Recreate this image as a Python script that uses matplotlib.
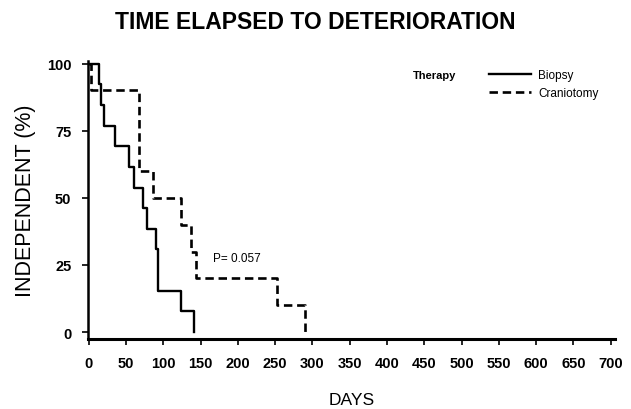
import matplotlib
matplotlib.use("Agg")
import matplotlib.pyplot as plt

# Kaplan-Meier style step data
biopsy_days = [0, 14, 16, 20, 35, 54, 61, 73, 78, 90, 93, 124, 141]
biopsy_pct = [100, 92.3, 84.6, 76.9, 69.2, 61.5, 53.8, 46.2, 38.5, 30.8, 15.4, 7.7, 0]

cranio_days = [0, 3, 68, 86, 124, 137, 144, 252, 290]
cranio_pct = [100, 90, 60, 50, 40, 30, 20, 10, 0]

xticks = list(range(0, 701, 50))
yticks = [0, 25, 50, 75, 100]

plt.rcParams['font.family'] = ['Liberation Sans Narrow', 'Liberation Sans', 'DejaVu Sans']
sans = ['Liberation Sans', 'DejaVu Sans']

fig = plt.figure(figsize=(6.31, 4.10), dpi=100)
ax = fig.add_axes([0.1395, 0.1707, 0.8355, 0.6783])

ax.step(biopsy_days, biopsy_pct, where="post", color="black", lw=1.7, label="Biopsy")
ax.step(cranio_days, cranio_pct, where="post", color="black", lw=1.9,
        linestyle=(0, (3.2, 1.8)), label="Craniotomy")

ax.set_xlim(-1, 706)
ax.set_ylim(-2.6, 101)
ax.set_xticks(xticks)
ax.set_yticks(yticks)
ax.tick_params(axis="both", direction="out", length=4, width=1.2, labelsize=10.5, pad=8)
for lab in ax.get_xticklabels() + ax.get_yticklabels():
    lab.set_fontweight("bold")

for s in ["top", "right"]:
    ax.spines[s].set_visible(False)
ax.spines["bottom"].set_linewidth(2.2)
ax.spines["left"].set_linewidth(1.8)

ax.set_xlabel("DAYS", fontsize=12.5, family=sans, labelpad=16)
ax.set_ylabel("INDEPENDENT (%)", fontsize=15.5, family=sans, labelpad=8)

fig.text(0.5, 0.945, "TIME ELAPSED TO DETERIORATION", ha="center", va="center",
         fontsize=16.5, fontweight="bold", family=sans)

ax.text(166, 27.5, "P= 0.057", fontsize=8.5, va="center", family=sans)

ax.text(435, 95.8, "Therapy", fontsize=8, fontweight="bold", va="center", family=sans)
leg = ax.legend(loc="upper left", bbox_to_anchor=(0.74, 1.01), frameon=False,
                fontsize=8.5, handlelength=3.6, handletextpad=0.6, labelspacing=0.55)
for t in leg.get_texts():
    t.set_family(sans)

fig.savefig("out.png", dpi=100)
